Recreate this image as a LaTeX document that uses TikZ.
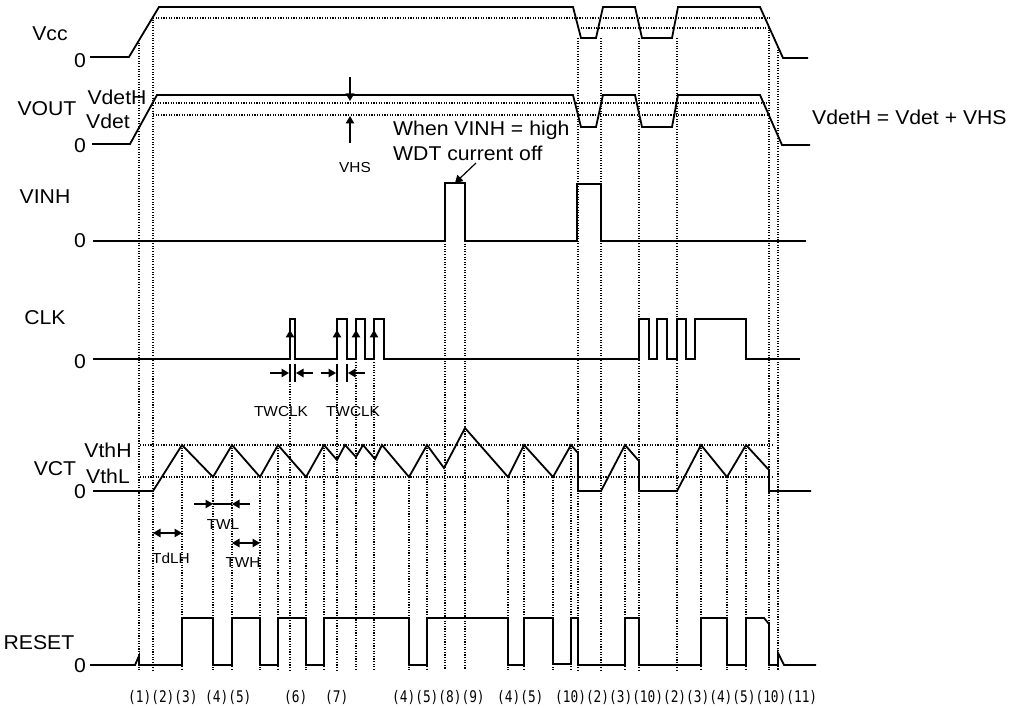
\documentclass[tikz,border=0pt]{standalone}
\usepackage{fontspec}
\setmainfont{Liberation Sans}[FakeStretch=1.06]
\newfontfamily\numfont{DejaVu Sans Mono}[FakeStretch=0.8]
\usepackage{tikz}
\usetikzlibrary{arrows.meta}

\begin{document}
\begin{tikzpicture}[
  x=1pt,y=-1pt,
  wave/.style={line width=1.8pt,line join=miter},
  guide/.style={line width=1.1pt,dash pattern=on 1.1pt off 1.5pt},
  lbl/.style={inner sep=0pt,font=\fontsize{20}{24}\selectfont},
  sml/.style={inner sep=0pt,font=\fontsize{14.5}{17}\selectfont},
  num/.style={inner sep=0pt,anchor=west,font=\numfont\fontsize{16}{18}\selectfont},
  arr/.style={-{Triangle[length=7.5pt,width=8.5pt]},line width=1.2pt},
  dbl/.style={{Triangle[length=7.5pt,width=8.5pt]}-{Triangle[length=7.5pt,width=8.5pt]},line width=1.2pt}
]
\useasboundingbox (0,0) rectangle (1009,708);

% guide lines
\foreach \gx/\gy in {139/40,153/17,182/445,213/477,232/445,260/477,278/445,290/381,306/477,
  324/445,337/381,356/362,374/362,409/477,427/445,445/241,465/241,508/477,524/445,553/477,
  571/445,578/38,601/38,625/445,639/38,677/38,701/445,727/477,746/445,769/27,778/47}
  \draw[guide] (\gx,\gy) -- (\gx,670);
\draw[guide] (153,18) -- (770,18);
\draw[guide] (578,28) -- (770,28);
\draw[guide] (155,103) -- (770,103);
\draw[guide] (153,115) -- (770,115);
\draw[guide] (140,445) -- (773,445);
\draw[guide] (140,477) -- (773,477);

% signal names
\node[lbl] (vcc) at (50,34) {Vcc};
\node[lbl] (vcc0) at (80,61) {0};
\node[lbl] (vout) at (47,109) {VOUT};
\node[lbl] (vdeth) at (117,97) {VdetH};
\node[lbl] (vdet) at (108,121) {Vdet};
\node[lbl] (vout0) at (80,146) {0};
\node[lbl] (vinh) at (45,197) {VINH};
\node[lbl] (vinh0) at (80,241) {0};
\node[lbl] (clk) at (45,318) {CLK};
\node[lbl] (clk0) at (80,362) {0};
\node[lbl] (vct) at (55,469) {VCT};
\node[lbl] (vthh) at (108,450) {VthH};
\node[lbl] (vthl) at (108,476) {VthL};
\node[lbl] (vct0) at (80,492) {0};
\node[lbl] (reset) at (39,643) {RESET};
\node[lbl] (reset0) at (80,666) {0};

% waveforms
\draw[wave] (90,57) -- (129,57) -- (159,7) -- (573,7) -- (581,38) -- (596,38) -- (603,7)
  -- (635,7) -- (642,38) -- (672,38) -- (678,7) -- (760,7) -- (783,58) -- (808,58);
\draw[wave] (92,144) -- (130,144) -- (157,95) -- (573,95) -- (581,127) -- (596,127) -- (603,95)
  -- (635,95) -- (642,127) -- (672,127) -- (678,95) -- (760,95) -- (782,145) -- (810,145);
\draw[wave] (93,241) -- (445,241) -- (445,183) -- (465,183) -- (465,241) -- (577,241)
  -- (577,184) -- (601,184) -- (601,241) -- (806,241);
\draw[wave] (93,359) -- (290,359) -- (290,319) -- (295,319) -- (295,359)
  -- (337,359) -- (337,319) -- (347,319) -- (347,359) -- (356,359) -- (356,319) -- (365,319)
  -- (365,359) -- (374,359) -- (374,319) -- (384,319) -- (384,359) -- (639,359) -- (639,319)
  -- (649,319) -- (649,359) -- (657,359) -- (657,319) -- (667,319) -- (667,359) -- (677,359)
  -- (677,319) -- (686,319) -- (686,359) -- (695,359) -- (695,319) -- (746,319) -- (746,359)
  -- (800,359);
\draw[wave] (93,491) -- (153,491) -- (182,445) -- (213,477) -- (232,445) -- (260,477)
  -- (278,445) -- (306,477) -- (324,445) -- (337,460) -- (345,445) -- (356,457) -- (363,445)
  -- (375,459) -- (382,445) -- (409,477) -- (427,445) -- (444,468) -- (465,428) -- (508,477)
  -- (524,445) -- (553,477) -- (571,445) -- (578,453) -- (578,491) -- (601,491) -- (625,445)
  -- (639,461) -- (639,491) -- (677,491) -- (701,445) -- (727,477) -- (746,445) -- (769,470)
  -- (769,491) -- (811,491);
\draw[wave] (90,665) -- (135,665) -- (139,656) -- (139,665) -- (182,665) -- (182,618)
  -- (213,618) -- (213,665) -- (232,665) -- (232,618) -- (260,618) -- (260,665) -- (278,665)
  -- (278,618) -- (306,618) -- (306,665) -- (324,665) -- (324,618) -- (409,618) -- (409,665)
  -- (427,665) -- (427,618) -- (508,618) -- (508,665) -- (524,665) -- (524,618) -- (553,618)
  -- (553,664) -- (571,664) -- (571,618) -- (578,618) -- (578,665) -- (625,665) -- (625,618)
  -- (639,618) -- (639,665) -- (701,665) -- (701,618) -- (727,618) -- (727,665) -- (746,665)
  -- (746,618) -- (764,618) -- (769,624) -- (769,665) -- (778,665) -- (778,653) -- (784,665)
  -- (816,665);

% VHS
\draw[arr] (350,77) -- (350,101);
\draw[arr] (350,143) -- (350,116);
\node[sml] (vhs) at (355,168) {VHS};
\node[lbl,anchor=west] (inhnote) at (393,130) {When VINH = high};
\node[lbl,anchor=west] (wdtnote) at (393,153) {WDT current off};
\coordinate (inhtip) at (455,183);
\draw[arr] (476,163) -- (inhtip);
\node[lbl,anchor=west] (hyst) at (812,117) {VdetH = Vdet + VHS};

% clock edges
\foreach \cx in {290,337,356,374}
  \draw[arr] (\cx,359) -- (\cx,330);
\foreach \bx in {290,295,337,347}
  \draw[line width=1.2pt] (\bx,364) -- (\bx,382);
\draw[arr] (270,373) -- (289,373);
\draw[arr] (313,373) -- (296,373);
\draw[arr] (321,373) -- (336,373);
\draw[arr] (365,373) -- (348,373);
\node[sml] (twclka) at (281,412) {TWCLK};
\node[sml] (twclkb) at (353,412) {TWCLK};

% VCT timings
\draw[arr] (194,504) -- (213,504);
\draw[arr] (250,504) -- (232,504);
\draw[line width=1.2pt] (213,504) -- (232,504);
\node[sml] (twl) at (223,525) {TWL};
\draw[dbl] (153,533) -- (182,533);
\node[sml] (tdlh) at (171,558) {TdLH};
\draw[dbl] (232,543) -- (260,543);
\node[sml] (twh) at (243,563) {TWH};

% state numbers
\node[num] (na) at (128,697) {(1)(2)(3)};
\node[num] (nb) at (205,697) {(4)(5)};
\node[num] (nc) at (284,697) {(6)};
\node[num] (nd) at (325,697) {(7)};
\node[num] (ne) at (392,697) {(4)(5)(8)(9)};
\node[num] (nf) at (497,697) {(4)(5)};
\node[num] (ng) at (555,697) {(10)(2)(3)(10)(2)(3)(4)(5)(10)(11)};
\end{tikzpicture}
\end{document}
